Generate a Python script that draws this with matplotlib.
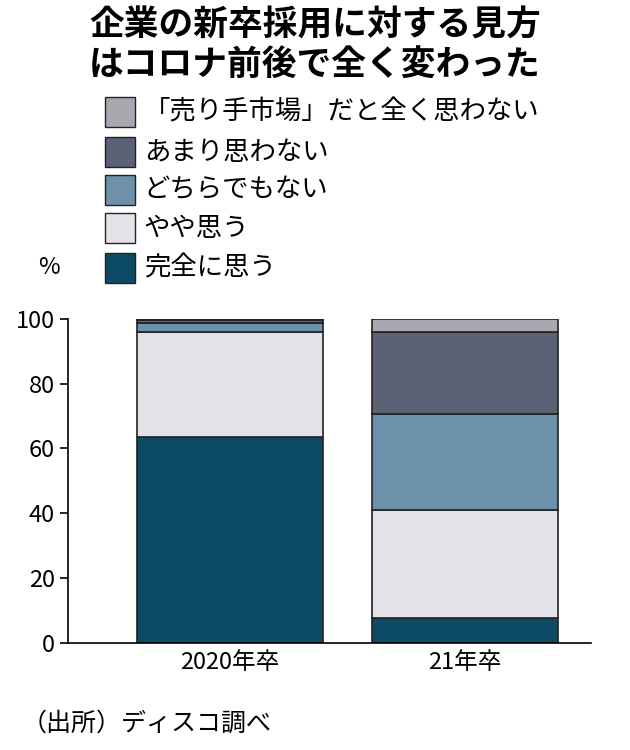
import matplotlib.pyplot as plt
from matplotlib.patches import Rectangle

plt.rcParams['font.family'] = ['Noto Sans CJK JP', 'DejaVu Sans']

categories = ['2020年卒', '21年卒']
series = ['完全に思う', 'やや思う', 'どちらでもない', 'あまり思わない', '「売り手市場」だと全く思わない']
values = [
    [63.6, 7.7],
    [32.4, 33.3],
    [2.8, 29.7],
    [0.9, 25.3],
    [0.3, 4.0],
]
colors = ['#0d4a66', '#e2e2e8', '#6e91ab', '#5b6275', '#a9a7af']

fig = plt.figure(figsize=(6.3, 7.5), dpi=100)
ax = fig.add_axes([0.108, 0.143, 0.83, 0.432])

bottom = [0, 0]
for vals, c in zip(values, colors):
    ax.bar(range(len(categories)), vals, bottom=bottom, width=0.79, color=c,
           edgecolor='#222222', linewidth=1.2)
    bottom = [b + v for b, v in zip(bottom, vals)]

ax.set_xlim(-0.689, 1.537)
ax.set_ylim(0, 100)
ax.set_yticks(range(0, 101, 20))
ax.set_xticks(range(len(categories)))
ax.set_xticklabels(categories)
ax.tick_params(axis='y', labelsize=17, length=6, width=1.2)
ax.tick_params(axis='x', labelsize=17, length=0, pad=6)
for s in ['top', 'right']:
    ax.spines[s].set_visible(False)
ax.spines['left'].set_linewidth(1.2)
ax.spines['bottom'].set_linewidth(1.2)

fig.text(0.5, 0.966, '企業の新卒採用に対する見方', ha='center', va='center',
         fontsize=25, fontweight='bold')
fig.text(0.5, 0.913, 'はコロナ前後で全く変わった', ha='center', va='center',
         fontsize=25, fontweight='bold')

# legend, top to bottom
ys = [0.851, 0.797, 0.747, 0.696, 0.643]
for y, name, c in zip(ys, series[::-1], colors[::-1]):
    fig.patches.append(Rectangle((0.167, y - 0.02), 0.048, 0.04, transform=fig.transFigure,
                                 facecolor=c, edgecolor='#222222', linewidth=1))
    fig.text(0.228, y, name, va='center', fontsize=19)

fig.text(0.06, 0.643, '%', va='center', fontsize=17)
fig.text(0.035, 0.035, '（出所）ディスコ調べ', va='center', fontsize=18)

fig.savefig('out.png', dpi=100)
